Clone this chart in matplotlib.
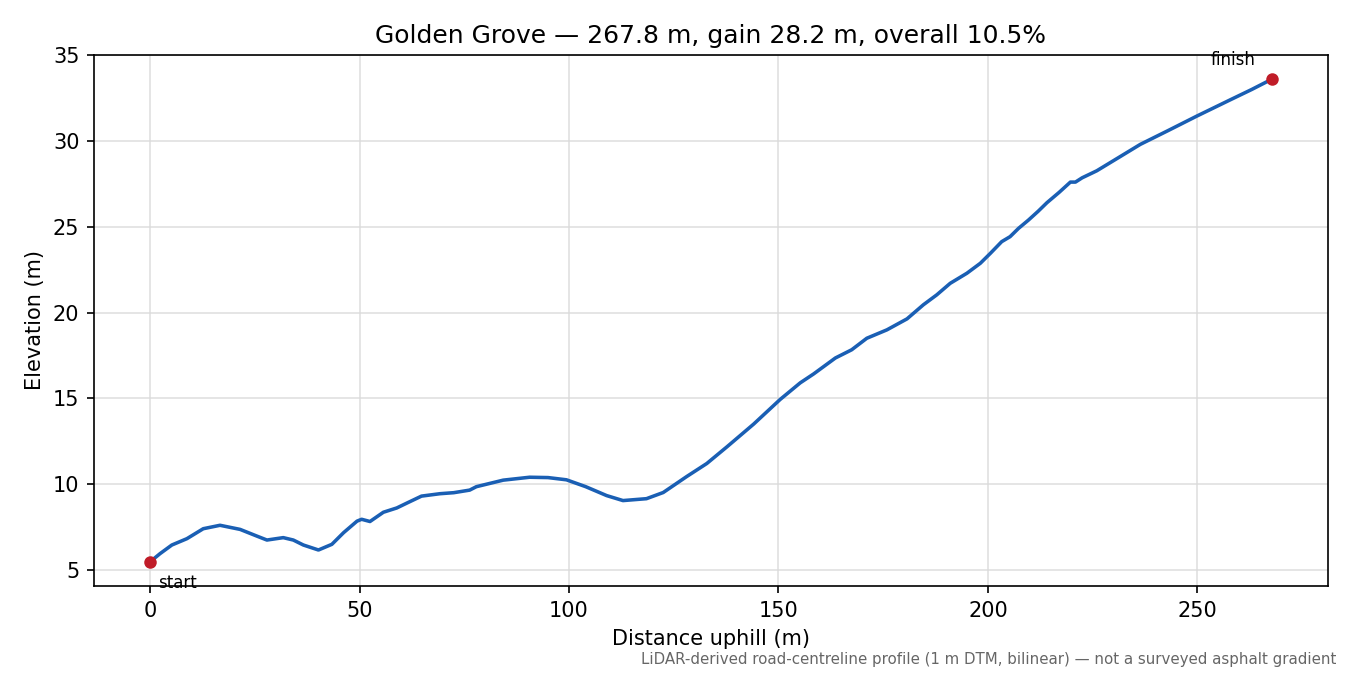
import matplotlib
matplotlib.use("Agg")
import matplotlib.pyplot as plt

distance = [0, 2.4, 5.2, 8.8, 12.7, 16.7, 21.5, 25.5, 27.9, 31.8, 34.2, 36.6, 40.2,
            43.4, 46.2, 49.4, 50.5, 52.5, 55.7, 58.9, 61.7, 64.8, 69.2, 72.5, 76.3,
            77.9, 84.3, 90.6, 95.0, 99.4, 104.0, 109.0, 112.9, 118.5, 122.5, 128.1,
            132.9, 137.7, 144.1, 150.4, 155.2, 158.4, 163.6, 167.5, 171.1, 175.9,
            180.7, 184.6, 187.8, 191.0, 195.0, 198.2, 200.6, 203.3, 205.3, 207.3,
            209.7, 212.0, 214.1, 217.0, 219.7, 220.9, 222.5, 226.0, 231.0, 236.4,
            243.0, 249.9, 257.9, 263.0, 267.8]
elevation = [5.47, 5.95, 6.45, 6.82, 7.4, 7.6, 7.36, 6.97, 6.74, 6.88, 6.74, 6.45, 6.16,
             6.49, 7.17, 7.84, 7.95, 7.82, 8.36, 8.61, 8.94, 9.3, 9.44, 9.5, 9.65,
             9.85, 10.23, 10.4, 10.38, 10.25, 9.85, 9.33, 9.04, 9.15, 9.51, 10.44,
             11.2, 12.17, 13.5, 14.93, 15.9, 16.42, 17.35, 17.83, 18.5, 18.99,
             19.63, 20.45, 21.03, 21.7, 22.29, 22.87, 23.45, 24.13, 24.42, 24.9,
             25.39, 25.9, 26.4, 27.0, 27.6, 27.6, 27.85, 28.26, 29.0, 29.8,
             30.6, 31.45, 32.4, 33.0, 33.6]

title = "Golden Grove \u2014 267.8 m, gain 28.2 m, overall 10.5%"
note = "LiDAR-derived road-centreline profile (1 m DTM, bilinear) \u2014 not a surveyed asphalt gradient"

fig, ax = plt.subplots(figsize=(9, 4.5), dpi=150)
fig.subplots_adjust(left=0.0696, right=0.9837, top=0.9185, bottom=0.1319)

ax.plot(distance, elevation, color="#1a5fb4", lw=1.7, zorder=2,
        solid_joinstyle="round", solid_capstyle="round")
ax.plot([distance[0], distance[-1]], [elevation[0], elevation[-1]], "o",
        color="#c01c28", ms=5, zorder=3)
ax.annotate("start", (distance[0], elevation[0]), xytext=(4, -6),
            textcoords="offset points", ha="left", va="top", fontsize=8)
ax.annotate("finish", (distance[-1], elevation[-1]), xytext=(-8, 5),
            textcoords="offset points", ha="right", va="bottom", fontsize=8)

ax.grid(True, color="0.85", lw=0.8, alpha=0.8)
ax.set_axisbelow(True)
ax.set_xlabel("Distance uphill (m)")
ax.set_ylabel("Elevation (m)")
ax.set_title(title, fontsize=12)
fig.text(0.99, 0.012, note, ha="right", va="bottom", fontsize=7.2, color="0.4")

fig.savefig("out.png", dpi=150)
